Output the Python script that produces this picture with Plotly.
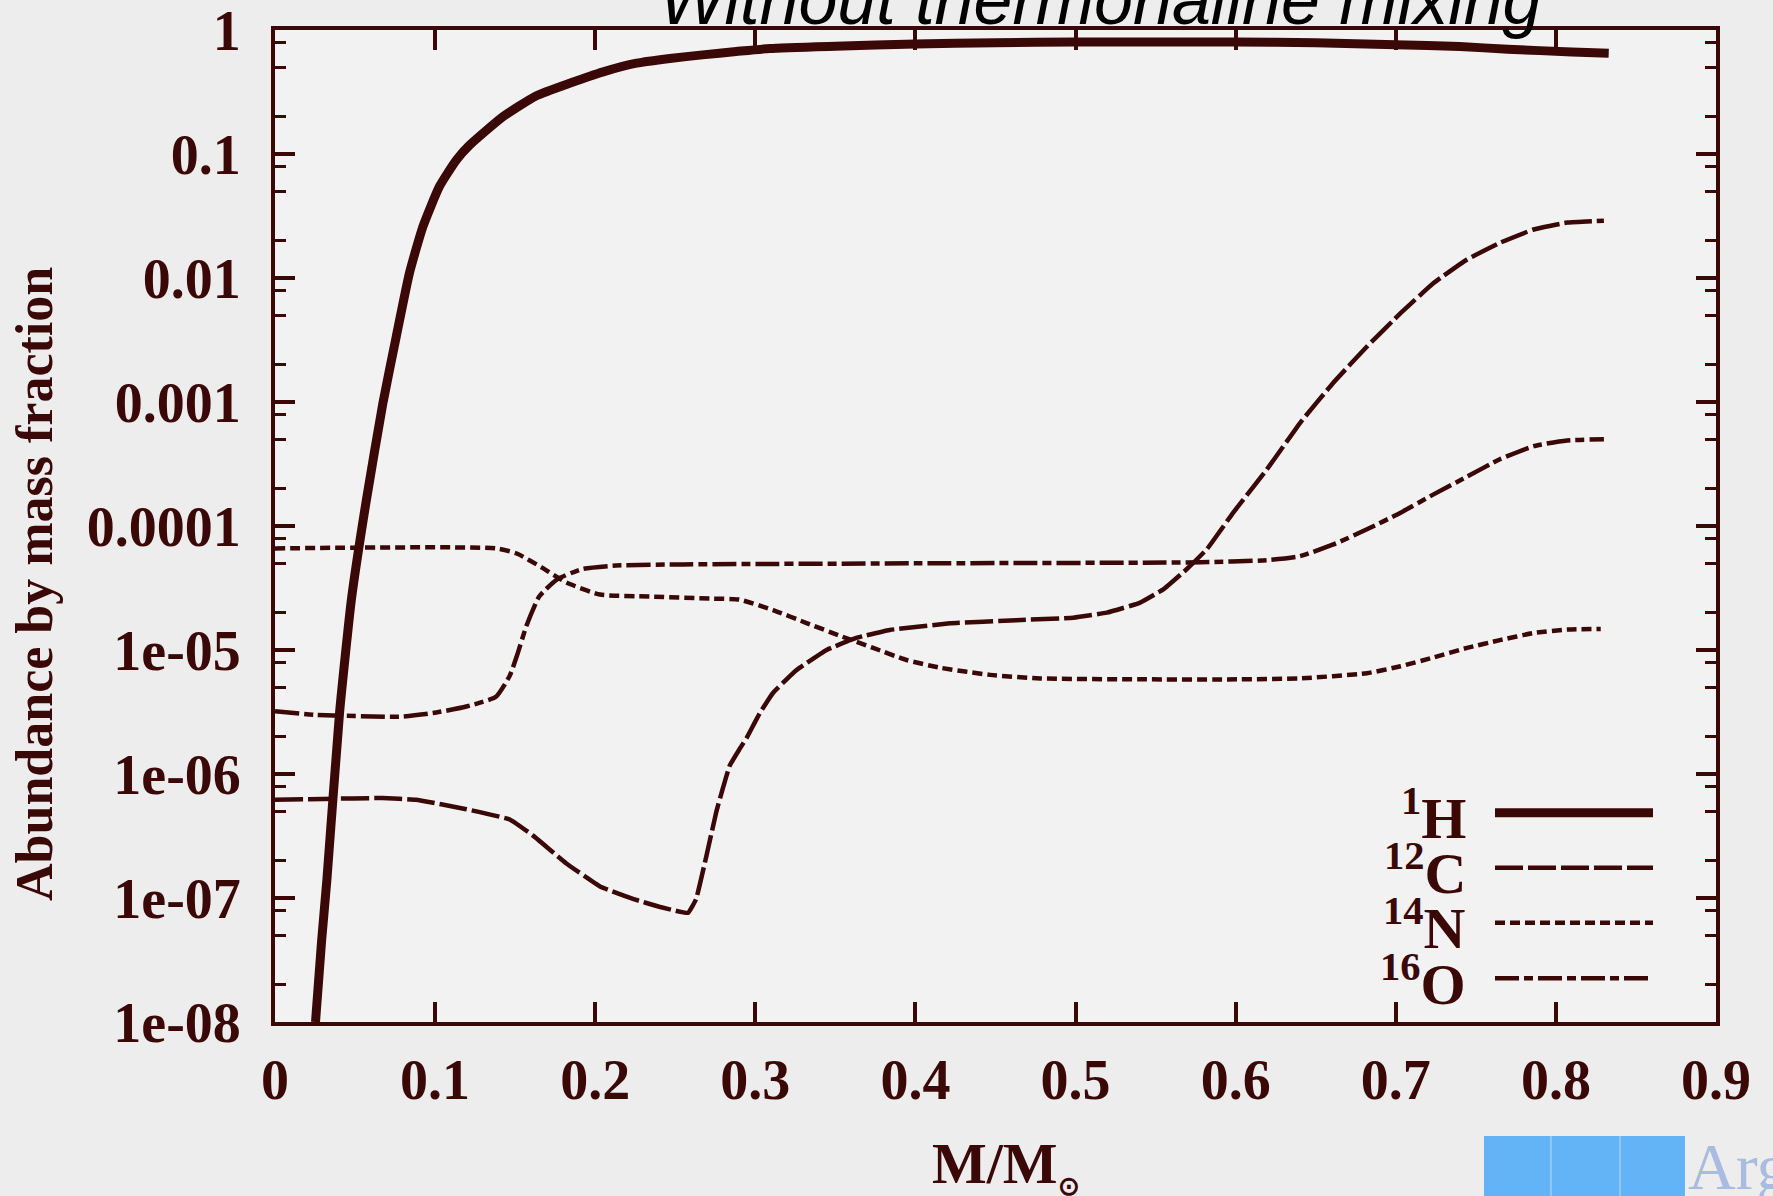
import plotly.graph_objects as go

# ---------------- data ----------------
mass_h = [0.0253, 0.0291, 0.0324, 0.0403, 0.0478, 0.0570, 0.0674, 0.0758, 0.084, 0.0924,
          0.1028, 0.1133, 0.1216, 0.1424, 0.163, 0.184, 0.205, 0.2258, 0.2466, 0.267,
          0.288, 0.309, 0.35, 0.40, 0.45, 0.50, 0.55, 0.60, 0.65, 0.70,
          0.74, 0.77, 0.81, 0.833]
h1 = [1.0e-8, 4.5e-8, 1.4e-7, 3.1e-6, 2.6e-5, 1.6e-4, 9.8e-4, 3.4e-3, 0.011, 0.026,
      0.055, 0.0895, 0.118, 0.20, 0.294, 0.372, 0.46, 0.54, 0.59, 0.63,
      0.67, 0.71, 0.74, 0.77, 0.79, 0.80, 0.80, 0.80, 0.79, 0.76,
      0.735, 0.70, 0.665, 0.65]

mass_c = [0.0, 0.03, 0.067, 0.088, 0.1195, 0.1466, 0.161, 0.182, 0.203, 0.224,
          0.240, 0.252, 0.258, 0.263, 0.2695, 0.2757, 0.280, 0.284, 0.2903, 0.2945,
          0.3028, 0.311, 0.3195, 0.3258, 0.3445, 0.363, 0.384, 0.4216, 0.463, 0.4986,
          0.5195, 0.540, 0.555, 0.5695, 0.582, 0.5986, 0.6195, 0.6403, 0.661, 0.682,
          0.703, 0.7236, 0.7445, 0.765, 0.786, 0.807, 0.83]
c12 = [6.2e-7, 6.3e-7, 6.4e-7, 6.2e-7, 5.2e-7, 4.3e-7, 3.2e-7, 1.9e-7, 1.24e-7, 9.8e-8,
       8.5e-8, 7.8e-8, 7.6e-8, 9.8e-8, 2.2e-7, 5.0e-7, 7.9e-7, 1.17e-6, 1.6e-6, 1.95e-6,
       3.1e-6, 4.5e-6, 5.8e-6, 6.9e-6, 1.0e-5, 1.25e-5, 1.45e-5, 1.64e-5, 1.74e-5, 1.82e-5,
       2.0e-5, 2.4e-5, 3.1e-5, 4.5e-5, 6.5e-5, 1.29e-4, 2.86e-4, 6.8e-4, 1.43e-3, 2.8e-3,
       5.2e-3, 9.1e-3, 0.0141, 0.0192, 0.0246, 0.028, 0.029]

mass_n = [0.0, 0.138, 0.151, 0.167, 0.182, 0.203, 0.234, 0.2716, 0.290, 0.311,
          0.332, 0.353, 0.3736, 0.3945, 0.4153, 0.4466, 0.478, 0.540, 0.603, 0.640,
          0.682, 0.703, 0.7236, 0.7445, 0.765, 0.786, 0.807, 0.828]
n14 = [6.6e-5, 6.6e-5, 6.0e-5, 4.6e-5, 3.5e-5, 2.8e-5, 2.7e-5, 2.6e-5, 2.55e-5, 2.1e-5,
       1.65e-5, 1.3e-5, 1.04e-5, 8.3e-6, 7.2e-6, 6.3e-6, 5.9e-6, 5.8e-6, 5.8e-6, 5.9e-6,
       6.5e-6, 7.4e-6, 8.7e-6, 1.04e-5, 1.2e-5, 1.37e-5, 1.46e-5, 1.48e-5]

mass_o = [0.0, 0.0257, 0.078, 0.0986, 0.1195, 0.138, 0.1466, 0.151, 0.157, 0.165,
          0.176, 0.192, 0.213, 0.255, 0.40, 0.578, 0.6195, 0.640, 0.661, 0.682,
          0.703, 0.7236, 0.7445, 0.765, 0.786, 0.807, 0.83]
o16 = [3.2e-6, 3.0e-6, 2.9e-6, 3.1e-6, 3.5e-6, 4.2e-6, 6.2e-6, 8.9e-6, 1.56e-5, 2.7e-5,
       3.7e-5, 4.5e-5, 4.8e-5, 4.9e-5, 5.0e-5, 5.1e-5, 5.3e-5, 5.7e-5, 7.1e-5, 9.4e-5,
       1.28e-4, 1.8e-4, 2.5e-4, 3.45e-4, 4.4e-4, 4.9e-4, 5.0e-4]

x_ticks = [0, 0.1, 0.2, 0.3, 0.4, 0.5, 0.6, 0.7, 0.8, 0.9]
x_ticktext = ["0", "0.1", "0.2", "0.3", "0.4", "0.5", "0.6", "0.7", "0.8", "0.9"]
y_ticks = [1, 0.1, 0.01, 0.001, 1e-4, 1e-5, 1e-6, 1e-7, 1e-8]
y_ticktext = ["1", "0.1", "0.01", "0.001", "0.0001", "1e-05", "1e-06", "1e-07", "1e-08"]
y_minor = [m * 10.0 ** e for e in range(-8, 0) for m in (2, 5, 8)]

series_labels = ["<sup>1</sup>H", "<sup>12</sup>C", "<sup>14</sup>N", "<sup>16</sup>O"]

title_text = "Without thermohaline mixing"
xlabel = "M/M<sub><span style='font-size:26px'>⊙</span></sub>"
ylabel = "Abundance by mass fraction"
logo_text = "Arg"

# ---------------- styling ----------------
INK = "#3b0808"
W, H = 1773, 1196
L, R, T, B = 275, 57, 30, 174
PW, PH = W - L - R, H - T - B


def px_x(px):
    return (px - L) / PW


def px_y(py):
    return (H - B - py) / PH


dashes = {"H": "solid", "C": "28px,5px", "N": "10px,5px", "O": "24px,5px,9px,5px"}
widths = {"H": 9, "C": 4.5, "N": 4.5, "O": 4.5}
smooth = {"H": 0.5, "C": 0.3, "N": 0.5, "O": 0.5}

fig = go.Figure()
for key, xs, ys in [("H", mass_h, h1), ("C", mass_c, c12), ("N", mass_n, n14), ("O", mass_o, o16)]:
    fig.add_trace(go.Scatter(
        x=xs, y=ys, mode="lines",
        line=dict(color=INK, width=widths[key], dash=dashes[key], shape="spline",
                  smoothing=smooth[key]),
        showlegend=False, hoverinfo="skip"))

axis_font = dict(family="Liberation Serif", size=56, color=INK, weight="bold")

fig.update_xaxes(
    range=[0, 0.9], tickvals=x_ticks, ticktext=x_ticktext, automargin=False,
    showline=True, linewidth=4, linecolor=INK, mirror="ticks",
    ticks="inside", ticklen=20, tickwidth=4, tickcolor=INK,
    showgrid=False, zeroline=False, tickfont=axis_font, ticklabelstandoff=6,
    ticklabeloverflow="allow")
fig.update_yaxes(
    type="log", range=[-8, 0], tickvals=y_ticks, ticktext=y_ticktext, automargin=False,
    showline=True, linewidth=4, linecolor=INK, mirror="ticks",
    ticks="inside", ticklen=20, tickwidth=4, tickcolor=INK,
    minor=dict(tickmode="array", tickvals=y_minor, ticks="inside", ticklen=11,
               tickwidth=3, tickcolor=INK, showgrid=False),
    showgrid=False, zeroline=False, tickfont=axis_font, ticklabelstandoff=19,
    ticklabeloverflow="allow")

annotations = [
    dict(text=title_text, x=px_x(1100), y=px_y(0), xref="paper", yref="paper",
         showarrow=False, xanchor="center", yanchor="middle",
         font=dict(family="Liberation Sans", size=70, color="#000000", style="italic")),
    dict(text=ylabel, x=px_x(34), y=px_y(584), xref="paper", yref="paper",
         showarrow=False, textangle=-90, xanchor="center", yanchor="middle",
         font=dict(family="Liberation Serif", size=52, color=INK, weight="bold")),
    dict(text=xlabel, x=px_x(1006), y=px_y(1166), xref="paper", yref="paper",
         showarrow=False, xanchor="center", yanchor="middle",
         font=dict(family="Liberation Serif", size=58, color=INK, weight="bold")),
    dict(text=logo_text, x=px_x(1686), y=px_y(1128), xref="paper", yref="paper",
         showarrow=False, xanchor="left", yanchor="top",
         font=dict(family="Liberation Serif", size=66, color="#a9bcdf")),
]

shapes = []
legend_rows = [("H", 812.7), ("C", 867.7), ("N", 922.7), ("O", 978.3)]
for (key, ly), lab in zip(legend_rows, series_labels):
    shapes.append(dict(type="line", xref="paper", yref="paper",
                       x0=px_x(1495), x1=px_x(1653), y0=px_y(ly), y1=px_y(ly),
                       line=dict(color=INK, width=widths[key], dash=dashes[key])))
    annotations.append(dict(text=lab, x=px_x(1468), y=px_y(ly + 2), xref="paper", yref="paper",
                            showarrow=False, xanchor="right", yanchor="middle",
                            font=dict(family="Liberation Serif", size=58, color=INK, weight="bold")))

# logo block at bottom right
shapes.append(dict(type="rect", xref="paper", yref="paper",
                   x0=px_x(1484), x1=px_x(1685), y0=px_y(1136), y1=px_y(1200),
                   fillcolor="#62b4f7", line=dict(width=0), layer="above"))
for lx in (1551, 1620):
    shapes.append(dict(type="line", xref="paper", yref="paper",
                       x0=px_x(lx), x1=px_x(lx), y0=px_y(1136), y1=px_y(1200),
                       line=dict(color="#8cc8f9", width=2)))

fig.update_layout(
    width=W, height=H, autosize=False,
    margin=dict(l=L, r=R, t=T, b=B, pad=0, autoexpand=False),
    paper_bgcolor="#ededed", plot_bgcolor="#f2f2f2",
    annotations=annotations, shapes=shapes, showlegend=False)

fig.write_html("out.html", config={"displayModeBar": False},
               post_script="document.body.style.margin='0';document.body.style.overflow='hidden';")
